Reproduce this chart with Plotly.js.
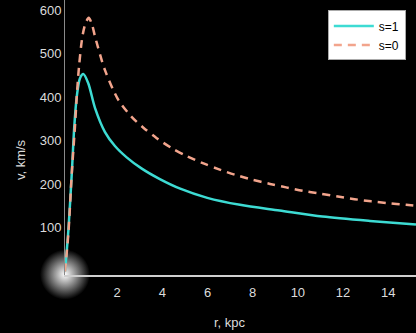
<!DOCTYPE html>
<html>
<head>
<meta charset="utf-8">
<script src="https://cdn.plot.ly/plotly-3.0.1.min.js"></script>
<style>
  html, body { margin: 0; padding: 0; background: #000; }
  #chart { width: 416px; height: 333px; }
</style>
</head>
<body>
<div id="chart"></div>
<script>
// rotation curves (r in kpc, v in km/s)
var rS1 = [0, 0.15, 0.30, 0.41, 0.52, 0.66, 0.81, 1.03, 1.33, 1.77, 2.21, 2.73, 3.4, 4.2, 5.1, 6.3, 7.75, 9.5, 11.4, 13.5, 15.54];
var vS1 = [0, 95, 225, 332, 401, 443, 453, 432, 375, 320, 288, 262, 236, 212, 190, 169, 153, 140, 126, 116, 108];

var rS0 = [0, 0.15, 0.30, 0.44, 0.52, 0.62, 0.77, 0.9, 1.05, 1.2, 1.33, 1.77, 2.36, 2.95, 3.47, 4.06, 4.73, 5.39, 6.13, 6.79, 7.53, 8.27, 9.08, 9.79, 10.53, 11.26, 12.08, 12.82, 13.56, 14.29, 15.1, 15.54];
var vS0 = [0, 88, 225, 332, 401, 470, 539, 568, 582, 566, 539, 462, 394, 355, 330, 306, 283, 265, 248, 235, 222, 211, 201, 193, 185, 179, 172, 166, 161, 157, 153, 151];

// white glow sitting on the origin
var glowR = [0];
var glowV = [-7];

var xTicks = [2, 4, 6, 8, 10, 12, 14];
var yTicks = [100, 200, 300, 400, 500, 600];

var data = [{
    x: glowR, y: glowV,
    mode: 'markers',
    showlegend: false,
    hoverinfo: 'skip',
    cliponaxis: false,
    marker: {size: 50, color: '#000', line: {width: 0},
             gradient: {type: 'radial', color: '#fff'}}
},{
    x: rS1, y: vS1,
    name: 's=1',
    mode: 'lines',
    line: {color: '#3ddbd3', width: 2.5, shape: 'spline', smoothing: 0.8}
},{
    x: rS0, y: vS0,
    name: 's=0',
    mode: 'lines',
    line: {color: '#f2a48c', width: 2.5, dash: '8px,6px', shape: 'spline', smoothing: 0.8}
}];

var layout = {
    width: 416,
    height: 333,
    paper_bgcolor: '#000',
    plot_bgcolor: '#000',
    margin: {l: 65, r: 0, t: 0, b: 58},
    font: {family: 'Liberation Sans, Arial, sans-serif', color: '#dcdcdc', size: 13},
    showlegend: true,
    legend: {
        x: 0.971, y: 0.962, xanchor: 'right', yanchor: 'top',
        bgcolor: '#fff', bordercolor: '#aaa', borderwidth: 1,
        font: {color: '#000', size: 12},
        itemwidth: 40,
        tracegroupgap: 0
    },
    xaxis: {
        range: [0, 15.54],
        tickvals: xTicks,
        ticks: '',
        ticklabelshift: 7,
        ticklabelstandoff: 5,
        showgrid: false,
        zeroline: false,
        showline: true,
        linecolor: '#cfcfcf',
        linewidth: 1.5
    },
    yaxis: {
        range: [-8, 623],
        tickvals: yTicks,
        ticks: '',
        showgrid: false,
        zeroline: false,
        showline: true,
        linecolor: '#8a8a8a',
        linewidth: 1
    },
    annotations: [{
        text: 'r, kpc', xref: 'paper', yref: 'paper',
        x: 0.47, y: -0.171, xanchor: 'center', yanchor: 'middle',
        showarrow: false, font: {size: 13, color: '#dcdcdc'}
    },{
        text: 'v, km/s', xref: 'paper', yref: 'paper', textangle: -90,
        x: -0.128, y: 0.418, xanchor: 'center', yanchor: 'middle',
        showarrow: false, font: {size: 13, color: '#dcdcdc'}
    }]
};

Plotly.newPlot('chart', data, layout, {displayModeBar: false, staticPlot: true});
</script>
</body>
</html>
